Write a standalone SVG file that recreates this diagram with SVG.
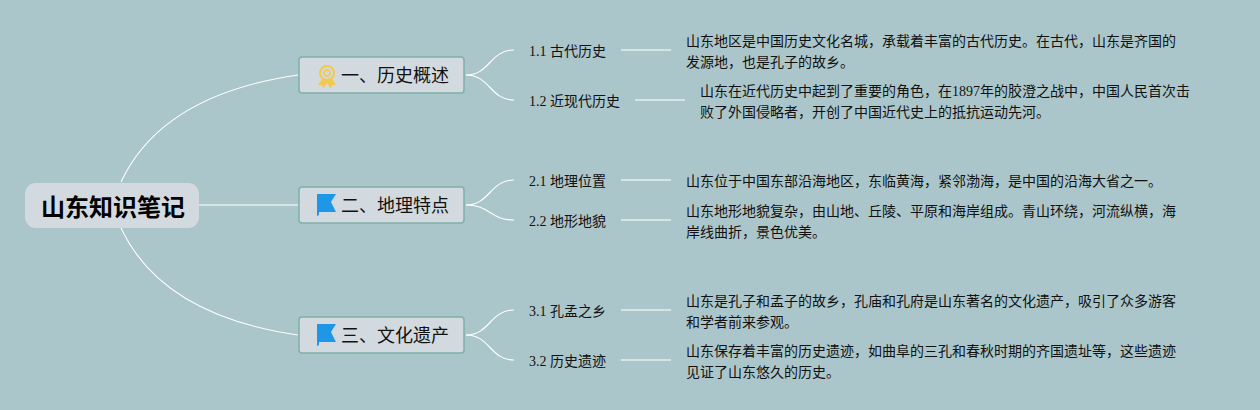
<svg xmlns="http://www.w3.org/2000/svg" width="1260" height="410" viewBox="0 0 1260 410">
<defs>
<style>
text{font-family:"Liberation Serif","Noto Sans CJK SC",serif;fill:#111}
.main{fill:#d3dadf;stroke:#7fb0a8;stroke-width:1.5}
.root{fill:#d3dadf}
.mt{font-size:18px}
.rt{font-size:24px;font-weight:700;fill:#000}
.st{font-size:14px}
.d{font-size:14px}
.c{fill:none;stroke:#fff;stroke-width:1.1}
.l{fill:none;stroke:#e4eeef;stroke-width:1.5}
</style>
<g id="medal">
<path d="M-5 4 L-9 10 L-5.5 10 L-3.5 13 L0 8 L3.5 13 L5.5 10 L9 10 L5 4Z" fill="#f2c94c"/>
<circle r="7" cy="-2" fill="#d3dadf" stroke="#f2c94c" stroke-width="2"/>
<circle r="3" cy="-2" fill="none" stroke="#f2c94c" stroke-width="1.6"/>
</g>
<g id="flag">
<path d="M0 -11 H19 L14 -3 L19 7 H2 V10 L0 11Z" fill="#1e98e6"/>
</g>
</defs>
<rect width="1260" height="410" fill="#abc6ca"/>
<g id="connectors">
<path class="c" d="M121 182 C150 120 215 87 298 75"/>
<path class="l" d="M198 205 H298"/>
<path class="c" d="M121 228 C150 290 215 323 298 335"/>
<path class="c" d="M466 75 C490 75 490 50 514 50"/>
<path class="c" d="M466 75 C490 75 490 100 514 100"/>
<path class="l" d="M621 50 H671"/>
<path class="l" d="M635 100 H685"/>
<path class="c" d="M466 205 C490 205 490 180 514 180"/>
<path class="c" d="M466 205 C490 205 490 220 514 220"/>
<path class="l" d="M621 180 H671"/>
<path class="l" d="M621 220 H671"/>
<path class="c" d="M466 335 C490 335 490 310 514 310"/>
<path class="c" d="M466 335 C490 335 490 360 514 360"/>
<path class="l" d="M621 310 H671"/>
<path class="l" d="M621 360 H671"/>
</g>
<g id="root"><rect class="root" x="25" y="183" width="174" height="45" rx="11"/><text class="rt" x="41" y="216">山东知识笔记</text></g>
<g id="n1"><rect class="main" x="299" y="57" width="165" height="36" rx="3"/><use href="#medal" x="327" y="75"/><text class="mt" x="341" y="82">一、历史概述</text></g>
<g id="n2"><rect class="main" x="299" y="187" width="165" height="36" rx="3"/><use href="#flag" x="317" y="205"/><text class="mt" x="341" y="212">二、地理特点</text></g>
<g id="n3"><rect class="main" x="299" y="317" width="165" height="36" rx="3"/><use href="#flag" x="317" y="335"/><text class="mt" x="341" y="342">三、文化遗产</text></g>
<g id="s11"><text class="st" x="529" y="56">1.1 古代历史</text></g>
<g id="s12"><text class="st" x="529" y="106">1.2 近现代历史</text></g>
<g id="s21"><text class="st" x="529" y="186">2.1 地理位置</text></g>
<g id="s22"><text class="st" x="529" y="226">2.2 地形地貌</text></g>
<g id="s31"><text class="st" x="529" y="316">3.1 孔孟之乡</text></g>
<g id="s32"><text class="st" x="529" y="366">3.2 历史遗迹</text></g>
<g id="d11"><text class="d" x="686" y="46">山东地区是中国历史文化名城，承载着丰富的古代历史。在古代，山东是齐国的</text><text class="d" x="686" y="67">发源地，也是孔子的故乡。</text></g>
<g id="d12"><text class="d" x="700" y="96">山东在近代历史中起到了重要的角色，在1897年的胶澄之战中，中国人民首次击</text><text class="d" x="700" y="117">败了外国侵略者，开创了中国近代史上的抵抗运动先河。</text></g>
<g id="d21"><text class="d" x="686" y="186">山东位于中国东部沿海地区，东临黄海，紧邻渤海，是中国的沿海大省之一。</text></g>
<g id="d22"><text class="d" x="686" y="216">山东地形地貌复杂，由山地、丘陵、平原和海岸组成。青山环绕，河流纵横，海</text><text class="d" x="686" y="237">岸线曲折，景色优美。</text></g>
<g id="d31"><text class="d" x="686" y="306">山东是孔子和孟子的故乡，孔庙和孔府是山东著名的文化遗产，吸引了众多游客</text><text class="d" x="686" y="327">和学者前来参观。</text></g>
<g id="d32"><text class="d" x="686" y="356">山东保存着丰富的历史遗迹，如曲阜的三孔和春秋时期的齐国遗址等，这些遗迹</text><text class="d" x="686" y="377">见证了山东悠久的历史。</text></g>
</svg>
